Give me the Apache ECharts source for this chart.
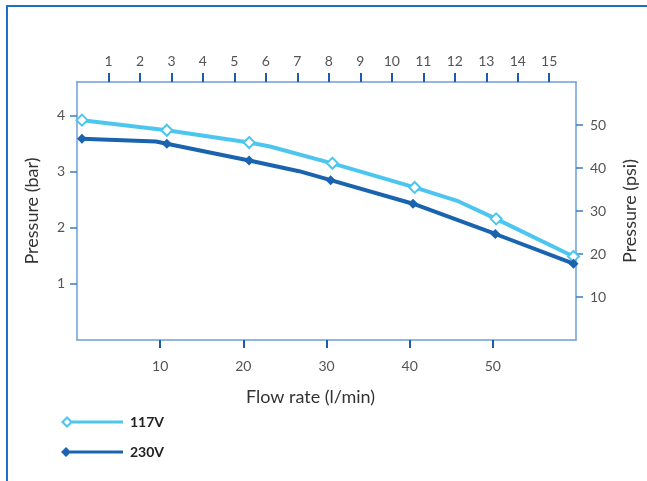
<!DOCTYPE html>
<html>
<head>
<meta charset="utf-8">
<script src="https://cdn.jsdelivr.net/npm/echarts@6/dist/echarts.min.js"></script>
<style>
html,body{margin:0;padding:0;background:#fff;}
#chart{width:647px;height:481px;}
</style>
</head>
<body>
<div id="chart"></div>
<script>
// ---- data ----
var seriesNames = ['117V', '230V'];
var flow117 = [0.6, 10.8, 20.7, 23.2, 30.7, 40.6, 45.9, 50.4, 59.7];
var bar117  = [3.92, 3.74, 3.52, 3.45, 3.15, 2.72, 2.47, 2.16, 1.49];
var marked117 = [0, 1, 2, 4, 5, 7, 8];
var flow230 = [0.6, 9.5, 10.8, 20.7, 26.7, 30.5, 40.4, 50.3, 59.7];
var bar230  = [3.59, 3.54, 3.50, 3.20, 3.01, 2.85, 2.43, 1.89, 1.36];
var marked230 = [0, 2, 3, 5, 6, 7, 8];
var flowTicks = [10, 20, 30, 40, 50];
var gpmTicks = [1, 2, 3, 4, 5, 6, 7, 8, 9, 10, 11, 12, 13, 14, 15];
var barTicks = [1, 2, 3, 4];
var psiTicks = [10, 20, 30, 40, 50];

function build(xs, ys, marked) {
  return xs.map(function (x, i) {
    var d = { value: [x, ys[i]] };
    if (marked.indexOf(i) < 0) d.symbol = 'none';
    return d;
  });
}

var FONT = 'Lato, "Open Sans", sans-serif';
var boxColor = '#6f9fd8';
var tickDark = '#1b5ea8';
var tickLight = '#3a7cc4';
var labelStyle = { color: '#555', fontSize: 14, fontFamily: FONT };
var nameStyle = { color: '#333', fontSize: 18, fontFamily: FONT };

var chart = echarts.init(document.getElementById('chart'), null, { renderer: 'canvas' });
chart.setOption({
  animation: false,
  backgroundColor: '#fff',
  textStyle: { fontFamily: FONT },
  graphic: [{
    type: 'rect',
    shape: { x: 7, y: 6, width: 800, height: 700 },
    style: { fill: 'none', stroke: '#1f6fc5', lineWidth: 2 },
    silent: true
  }],
  grid: { left: 77, right: 69, top: 82, bottom: 141, containLabel: false },
  legend: {
    orient: 'vertical',
    left: 56, top: 410,
    itemWidth: 62, itemHeight: 12, itemGap: 16,
    textStyle: { fontSize: 14, fontWeight: 'bold', color: '#222', fontFamily: FONT, padding: [0, 0, 0, 2] },
    data: [
      { name: '117V', icon: 'path://M0,6L6,0L12,6L6,12Z M3,6L6,9L9,6L6,3Z M11,4.5L62,4.5L62,7.5L11,7.5Z' },
      { name: '230V', icon: 'path://M0,6L5,1L10,6L5,11Z M9,4.5L62,4.5L62,7.5L9,7.5Z' }
    ]
  },
  xAxis: [{
    type: 'value', position: 'bottom', min: 0, max: 60,
    name: 'Flow rate (l/min)', nameLocation: 'middle', nameGap: 48,
    nameTextStyle: Object.assign({ padding: [0, 32, 0, 0] }, nameStyle),
    axisLine: { show: true, onZero: false, lineStyle: { color: boxColor, width: 1.5 } },
    axisTick: { show: true, inside: false, length: 8, customValues: flowTicks, lineStyle: { color: tickDark, width: 2 } },
    axisLabel: Object.assign({ customValues: flowTicks, margin: 19 }, labelStyle),
    splitLine: { show: false }
  }, {
    type: 'value', position: 'top', min: 0, max: 15.85,
    axisLine: { show: true, onZero: false, lineStyle: { color: boxColor, width: 1.5 } },
    axisTick: { show: true, inside: false, length: 9, customValues: gpmTicks, lineStyle: { color: tickDark, width: 2 } },
    axisLabel: Object.assign({ customValues: gpmTicks, margin: 14 }, labelStyle),
    splitLine: { show: false }
  }],
  yAxis: [{
    type: 'value', position: 'left', min: 0, max: 4.6,
    name: 'Pressure (bar)', nameLocation: 'middle', nameGap: 36,
    nameTextStyle: nameStyle,
    axisLine: { show: true, onZero: false, lineStyle: { color: boxColor, width: 1.5 } },
    axisTick: { show: true, inside: false, length: 7, customValues: barTicks, lineStyle: { color: tickLight, width: 1.5 } },
    axisLabel: Object.assign({ customValues: barTicks, margin: 12 }, labelStyle),
    splitLine: { show: false }
  }, {
    type: 'value', position: 'right', min: 0, max: 60,
    name: 'Pressure (psi)', nameLocation: 'middle', nameGap: 45,
    nameTextStyle: nameStyle,
    axisLine: { show: true, onZero: false, lineStyle: { color: boxColor, width: 1.5 } },
    axisTick: { show: true, inside: false, length: 7, customValues: psiTicks, lineStyle: { color: tickLight, width: 1.5 } },
    axisLabel: Object.assign({ customValues: psiTicks, margin: 14 }, labelStyle),
    splitLine: { show: false }
  }],
  series: [{
    name: seriesNames[0], type: 'line', xAxisIndex: 0, yAxisIndex: 0,
    data: build(flow117, bar117, marked117),
    symbol: 'emptyDiamond', symbolSize: 11,
    lineStyle: { color: '#4cc6ee', width: 4 },
    itemStyle: { color: '#4cc6ee', borderWidth: 2.5 },
    z: 2
  }, {
    name: seriesNames[1], type: 'line', xAxisIndex: 0, yAxisIndex: 0,
    data: build(flow230, bar230, marked230),
    symbol: 'diamond', symbolSize: 10,
    lineStyle: { color: '#1a63ae', width: 4 },
    itemStyle: { color: '#1a63ae' },
    z: 3
  }]
});
</script>
</body>
</html>
